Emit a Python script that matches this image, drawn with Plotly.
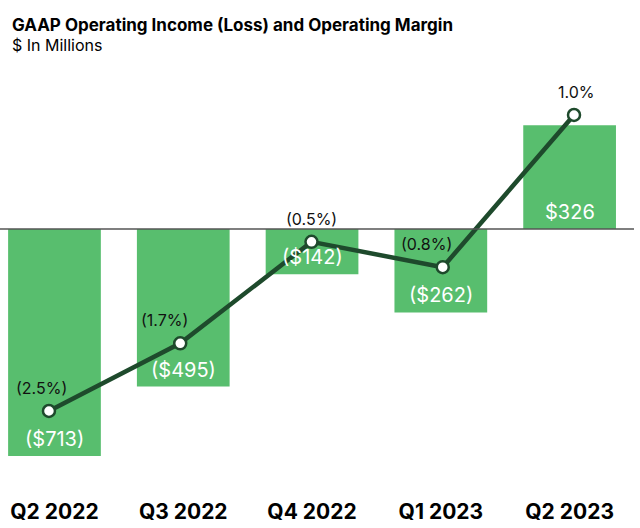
import plotly.graph_objects as go

quarters = ["Q2 2022", "Q3 2022", "Q4 2022", "Q1 2023", "Q2 2023"]
operating_income = [-713, -495, -142, -262, 326]
income_labels = ["($713)", "($495)", "($142)", "($262)", "$326"]
operating_margin = [-2.5, -1.7, -0.5, -0.8, 1.0]
margin_labels = ["(2.5%)", "(1.7%)", "(0.5%)", "(0.8%)", "1.0%"]

BAR = "#58BE6E"
LINE = "#1E4A2C"
FONT = "Inter, Lato, sans-serif"
margin_xshift = [-7, -16, 0, -16, 2]

fig = go.Figure()
fig.add_trace(go.Bar(x=quarters, y=operating_income, marker=dict(color=BAR, line=dict(width=0)),
                     width=0.72, xaxis="x", yaxis="y", hoverinfo="skip"))
fig.add_trace(go.Scatter(x=list(range(len(quarters))), y=operating_margin, mode="lines+markers",
                         line=dict(color=LINE, width=4.5),
                         marker=dict(size=12, color="white", line=dict(color=LINE, width=2.5)),
                         xaxis="x2", yaxis="y2", hoverinfo="skip"))

for q, v, t in zip(quarters, operating_income, income_labels):
    fig.add_annotation(x=q, y=min(v, 0), xref="x", yref="y", text=t, showarrow=False,
                       yanchor="bottom", yshift=3,
                       font=dict(family=FONT, size=20, color="white"))

for i, (m, t) in enumerate(zip(operating_margin, margin_labels)):
    fig.add_annotation(x=i, y=m, xref="x2", yref="y2", text=t, showarrow=False,
                       yanchor="bottom", yshift=11, xshift=margin_xshift[i],
                       font=dict(family=FONT, size=16, color="#111"))

fig.add_shape(type="line", xref="paper", yref="y", x0=0, x1=1, y0=0, y1=0,
              line=dict(color="#555", width=1.3), layer="above")

fig.add_annotation(xref="paper", yref="paper", x=0, y=1, xanchor="left", yanchor="bottom",
                   xshift=10, yshift=33, showarrow=False,
                   text="<b>GAAP Operating Income (Loss) and Operating Margin</b>",
                   font=dict(family=FONT, size=17, color="#000"))
fig.add_annotation(xref="paper", yref="paper", x=0, y=1, xanchor="left", yanchor="bottom",
                   xshift=10, yshift=13, showarrow=False, text="$ In Millions",
                   font=dict(family=FONT, size=16, color="#000"))

fig.update_layout(
    width=640, height=528,
    margin=dict(l=0, r=6, t=70, b=48),
    paper_bgcolor="white", plot_bgcolor="white",
    showlegend=False,
    xaxis=dict(range=[-0.423, 4.50], showgrid=False, zeroline=False, showline=False,
               ticks="", tickfont=dict(family=FONT, size=21, color="#000"),
               ticklabelstandoff=17, tickprefix="<b>", ticksuffix="</b>"),
    xaxis2=dict(range=[-0.373, 4.457], overlaying="x", visible=False),
    yaxis=dict(range=[-788.3, 499.4], visible=False),
    yaxis2=dict(range=[-3.316, 1.532], overlaying="y", visible=False),
)

fig.write_html("out.html", config={"displayModeBar": False},
               post_script="document.body.style.margin='0';document.body.style.overflow='hidden';")
